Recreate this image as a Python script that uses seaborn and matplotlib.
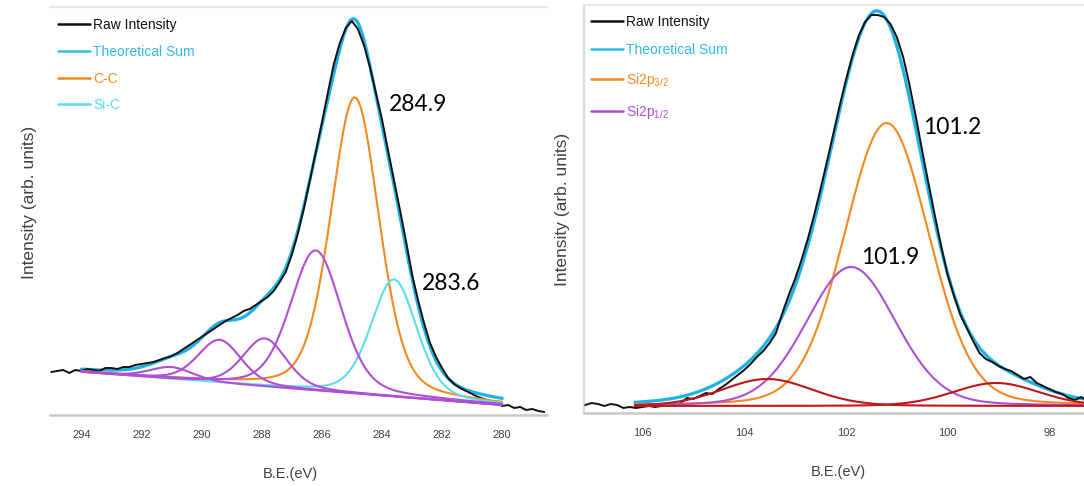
import numpy as np
import matplotlib
matplotlib.use("Agg")
import matplotlib.pyplot as plt
from matplotlib.lines import Line2D
import seaborn as sns

# ---------------- C 1s ----------------
c1s_raw_start, c1s_raw_step = 295.0, -0.2
c1s_raw = [43, 44, 45, 42, 45, 44, 46, 45, 44, 47, 47, 46, 48, 48, 50, 51, 52, 53, 55, 57,
           59, 62, 66, 70, 74, 78, 82, 86, 90, 94, 97, 100, 104, 106, 110, 114, 118, 124, 133, 143,
           160, 181, 206, 234, 263, 292, 322, 351, 372, 387, 394, 386, 370, 348, 322, 296, 265, 235, 205, 174,
           141, 115, 92, 72, 58, 47, 37, 31, 27, 24, 21, 18, 16, 14, 12, 9, 10, 7, 8, 5,
           6, 4, 3]
c1s_labels = ["C-C", "Si-C", None, None, None, None]
c1s_centers = [284.9, 283.6, 286.2, 287.9, 289.4, 291.0]
c1s_heights = [296, 117, 140, 48, 43, 12]
c1s_fwhm = [1.9, 1.8, 2.0, 1.7, 1.7, 1.7]
c1s_range = [294.0, 280.0]
c1s_bg = [43, 10]
c1s_marks = [284.9, 283.6]

# ---------------- Si 2p ----------------
si_raw_start, si_raw_step = 107.125, -0.125
si_raw = [8, 10, 9, 7, 9, 8, 5, 6, 5, 6, 7, 6, 7, 8, 7, 10, 15, 14, 17, 20,
          19, 24, 28, 33, 38, 43, 49, 56, 62, 70, 80, 100, 118, 134, 153, 174, 198, 224, 251, 279,
          307, 333, 357, 377, 391, 398, 398, 396, 389, 376, 356, 328, 296, 262, 229, 197, 166, 138, 117, 98,
          85, 72, 60, 54, 51, 47, 44, 42, 38, 34, 36, 30, 27, 24, 21, 19, 15, 13, 16, 12]
si_labels = ["Si2p$_{3/2}$", "Si2p$_{1/2}$", None, None]
si_centers = [101.2, 101.9, 103.55, 99.05]
si_heights = [283, 139, 27, 23]
si_fwhm = [1.97, 2.08, 2.1, 2.0]
si_range = [106.15, 97.32]
si_bg = [7, 7]
si_marks = [101.2, 101.9]

GL_MIX = {"c1s": 0.3, "si": 0.15}

RAW = "#111111"
SUM = "#1DB2E6"
ORANGE = "#F5891F"
SIC = "#5ADDEE"
PURPLE = "#AE4FD6"
RED = "#C0161B"
GREY = "#404040"


def line_shape(x, c, h, w, eta):
    s = (x - c) / (w / 2)
    return h * ((1 - eta) * np.exp(-np.log(2) * s ** 2) + eta / (1 + s ** 2))


def background(x, rng, bg):
    return bg[0] + (x - rng[0]) * (bg[1] - bg[0]) / (rng[1] - rng[0])


sns.set_theme(style="white")
plt.rcParams["font.family"] = ["Liberation Sans", "DejaVu Sans"]
plt.rcParams["mathtext.fontset"] = "custom"
plt.rcParams["mathtext.rm"] = "Liberation Sans"
plt.rcParams["mathtext.it"] = "Liberation Sans:italic"

fig = plt.figure(figsize=(10.84, 4.86), dpi=100)
ax1 = fig.add_axes([50 / 1084, 1 - 415 / 486, 497 / 1084, 408 / 486])
ax2 = fig.add_axes([584 / 1084, 1 - 413 / 486, 500 / 1084, 408 / 486])


def draw_panel(ax, raw_start, raw_step, raw, centers, heights, fwhm, rng, bg, eta, colors):
    e_raw = raw_start + raw_step * np.arange(len(raw))
    e_fit = np.linspace(rng[0], rng[1], 600)
    base = background(e_fit, rng, bg)
    comps = [base + line_shape(e_fit, c, h, w, eta) for c, h, w in zip(centers, heights, fwhm)]
    total = base + sum(cp - base for cp in comps)
    sns.lineplot(x=e_fit, y=total, ax=ax, color=SUM, lw=2.3, sort=False, estimator=None, zorder=2)
    sns.lineplot(x=e_raw, y=raw, ax=ax, color=RAW, lw=1.4, sort=False, estimator=None, zorder=3)
    for cp, col in zip(comps, colors):
        sns.lineplot(x=e_fit, y=cp, ax=ax, color=col, lw=1.5, sort=False, estimator=None, zorder=4)


draw_panel(ax1, c1s_raw_start, c1s_raw_step, c1s_raw, c1s_centers, c1s_heights, c1s_fwhm,
           c1s_range, c1s_bg, GL_MIX["c1s"], [ORANGE, SIC, PURPLE, PURPLE, PURPLE, PURPLE])
draw_panel(ax2, si_raw_start, si_raw_step, si_raw, si_centers, si_heights, si_fwhm,
           si_range, si_bg, GL_MIX["si"], [ORANGE, PURPLE, RED, RED])

ax1.set_xlim(295.04, 278.51)
ax1.set_ylim(0, 408)
ax1.set_xticks([294, 292, 290, 288, 286, 284, 282, 280])
ax2.set_xlim(107.15, 97.32)
ax2.set_ylim(0, 408)
ax2.set_xticks([106, 104, 102, 100, 98])

for ax in (ax1, ax2):
    ax.set_yticks([])
    ax.tick_params(axis="x", length=0, pad=11, labelsize=8, labelcolor=GREY)
    ax.spines["right"].set_visible(False)
    ax.spines["top"].set_color("#E6E6E6")
    ax.spines["top"].set_linewidth(1.6)
    ax.spines["bottom"].set_color("#C9C9C9")
    ax.spines["bottom"].set_linewidth(1.8)
    ax.set_xlabel("B.E.(eV)", fontsize=10.5, color=GREY)
    ax.set_ylabel("Intensity (arb. units)", fontsize=12.5, color=GREY)
ax1.spines["left"].set_visible(False)
ax2.spines["left"].set_color("#D9D9D9")
ax2.spines["left"].set_linewidth(1.6)

ax1.xaxis.set_label_coords(0.483, -0.128)
ax2.xaxis.set_label_coords(0.508, -0.128)
ax1.yaxis.set_label_coords(-0.026, 0.52)
ax2.yaxis.set_label_coords(-0.028, 0.50)

# peak position labels
mark_font = dict(fontsize=16.5, family=["Lato", "DejaVu Sans"], color="black", ha="left", va="center")
ax1.text(283.77, 311, f"{c1s_marks[0]:.1f}", **mark_font)
ax1.text(282.67, 132, f"{c1s_marks[1]:.1f}", **mark_font)
ax2.text(100.49, 286, f"{si_marks[0]:.1f}", **mark_font)
ax2.text(101.705, 156, f"{si_marks[1]:.1f}", **mark_font)


def legend(ax, labels, colors, anchor, spacing):
    handles = [Line2D([], [], color=c, lw=1.8) for c in colors]
    leg = ax.legend(handles, labels, loc="upper left", bbox_to_anchor=anchor,
                    bbox_transform=fig.transFigure, frameon=False, fontsize=10,
                    handlelength=2.3, handletextpad=0.25, labelspacing=spacing,
                    borderpad=0, borderaxespad=0, labelcolor=colors)
    return leg


legend(ax1, ["Raw Intensity", "Theoretical Sum", c1s_labels[0], c1s_labels[1]],
       [RAW, "#33BBEA", ORANGE, SIC], (58 / 1084, 1 - 18 / 486), 0.92)
legend(ax2, ["Raw Intensity", "Theoretical Sum", si_labels[0], si_labels[1]],
       [RAW, "#33BBEA", ORANGE, PURPLE], (591 / 1084, 1 - 15 / 486), 1.0)

fig.savefig("out.png", dpi=100)
